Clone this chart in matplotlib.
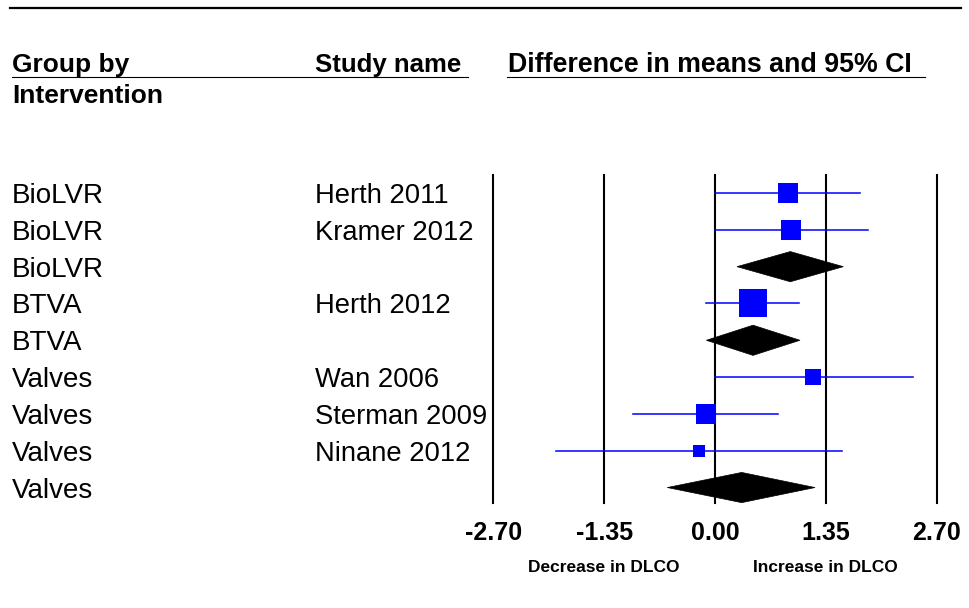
import matplotlib
matplotlib.use("Agg")
import matplotlib.pyplot as plt
from matplotlib.patches import Polygon
from matplotlib.lines import Line2D
import matplotlib.transforms as mtransforms

plt.rcParams['font.family'] = ['Liberation Sans', 'DejaVu Sans']

# data
groups = ["BioLVR", "BioLVR", "BioLVR", "BTVA", "BTVA",
          "Valves", "Valves", "Valves", "Valves"]
studies = ["Herth 2011", "Kramer 2012", "", "Herth 2012", "",
           "Wan 2006", "Sterman 2009", "Ninane 2012", ""]
means = [0.885, 0.928, 0.917, 0.459, 0.463, 1.198, -0.110, -0.191, 0.325]
lower = [0.0, 0.0, 0.268, -0.110, -0.105, 0.0, -0.995, -1.933, -0.581]
upper = [1.766, 1.86, 1.563, 1.023, 1.035, 2.408, 0.771, 1.551, 1.218]
is_summary = [False, False, True, False, True, False, False, False, True]
# relative study weights (square size)
weights = [20.7, 19.7, 0, 28.7, 0, 16.3, 19.3, 12.3, 0]

ticks = [-2.70, -1.35, 0.00, 1.35, 2.70]
tick_labels = ["-2.70", "-1.35", "0.00", "1.35", "2.70"]

W, H = 969, 608
fig = plt.figure(figsize=(W / 100, H / 100), dpi=100)
ax = fig.add_axes([493.3 / W, 105 / H, 443.4 / W, 328 / H])

rows = list(range(len(means)))
ax.set_xlim(-2.70, 2.70)
ax.set_ylim(8.42, -0.49)

for t in ticks:
    ax.axvline(t, color='black', lw=1.5, clip_on=False, zorder=1)

for i in rows:
    if is_summary[i]:
        h = 0.41
        diamond = Polygon([(lower[i], i), (means[i], i - h), (upper[i], i),
                           (means[i], i + h)], closed=True,
                          facecolor='black', edgecolor='black', lw=0.5, zorder=3)
        ax.add_patch(diamond)
    else:
        ax.plot([lower[i], upper[i]], [i, i], color='#0000ff', lw=1.1, zorder=2)
        ax.plot(means[i], i, marker='s', color='#0000ff',
                markersize=weights[i] * 0.72, markeredgewidth=0, zorder=3)

for s in ax.spines.values():
    s.set_visible(False)
ax.set_yticks([])
ax.set_xticks(ticks)
ax.set_xticklabels(tick_labels, fontsize=18, fontweight='bold')
ax.tick_params(axis='x', length=0, pad=13)

# row labels
row_trans = mtransforms.blended_transform_factory(fig.transFigure, ax.transData)
row_trans = mtransforms.offset_copy(row_trans, fig=fig, x=0, y=-10, units='dots')
for i in rows:
    fig.text(12 / W, i, groups[i], fontsize=20, va='baseline', transform=row_trans)
    if studies[i]:
        fig.text(315 / W, i, studies[i], fontsize=19.7, va='baseline', transform=row_trans)

# headers
fig.text(12 / W, 1 - 71.7 / H, "Group by", fontsize=19, fontweight='bold', va='baseline')
fig.text(12 / W, 1 - 103 / H, "Intervention", fontsize=19, fontweight='bold', va='baseline')
fig.text(315 / W, 1 - 71.7 / H, "Study name", fontsize=18.5, fontweight='bold', va='baseline')
fig.text(508 / W, 1 - 71.7 / H, "Difference in means and 95% CI", fontsize=19.3,
         fontweight='bold', va='baseline')

fig.add_artist(Line2D([10 / W, 961 / W], [1 - 7.5 / H] * 2, color='black', lw=1.6))
fig.add_artist(Line2D([12 / W, 468 / W], [1 - 76.7 / H] * 2, color='black', lw=0.8))
fig.add_artist(Line2D([506.7 / W, 925 / W], [1 - 76.7 / H] * 2, color='black', lw=0.8))

# direction labels
dir_trans = mtransforms.blended_transform_factory(ax.transData, fig.transFigure)
ax.text(-1.35, 1 - 567.7 / H, "Decrease in DLCO", fontsize=12.5, fontweight='bold',
        ha='center', va='center', transform=dir_trans)
ax.text(1.35, 1 - 567.7 / H, "Increase in DLCO", fontsize=12.5, fontweight='bold',
        ha='center', va='center', transform=dir_trans)

fig.savefig("out.png", dpi=100)
